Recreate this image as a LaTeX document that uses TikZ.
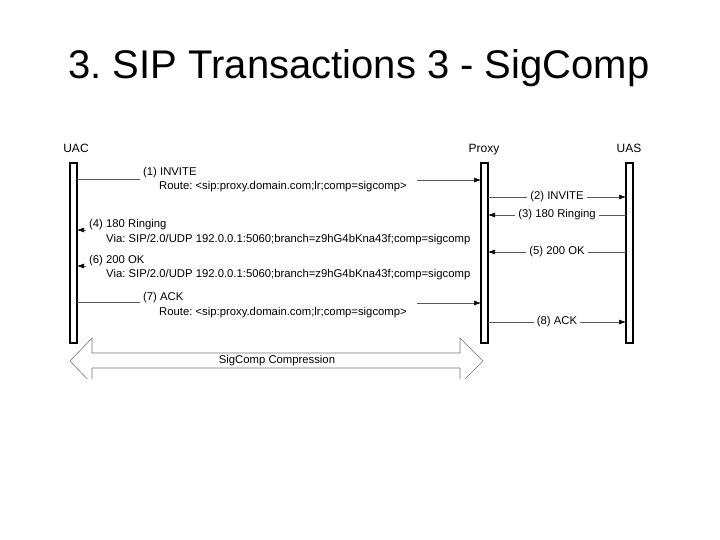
\documentclass[tikz,border=0pt]{standalone}
\usepackage{fontspec}
\setmainfont{Liberation Sans}
\usetikzlibrary{arrows.meta}
\frenchspacing
\begin{document}
\begin{tikzpicture}[x=1pt,y=-1pt,
  life/.style={draw=black,line width=1.1pt,fill=white},
  msg/.style={draw=black!65,line width=0.6pt},
  arr/.style={msg,-{Latex[length=7pt,width=5pt,color=black]}},
  lbl/.style={font=\fontsize{11.3}{13}\selectfont,inner sep=1pt,text=black},
  mlbl/.style={lbl,fill=white,inner sep=3pt},
  ent/.style={font=\fontsize{12}{14}\selectfont,inner sep=0pt,text=black,anchor=base},
  sig/.style={draw=black!55,line width=0.6pt}]
\useasboundingbox (0,0) rectangle (720,540);
% title
\node[font=\fontsize{40}{46}\selectfont,anchor=base,inner sep=0pt] (title) at (359,79) {3. SIP Transactions 3 - SigComp};
% entities
\node[ent] (uac) at (76,153) {UAC};
\node[ent] (proxy) at (484,153) {Proxy};
\node[ent] (uas) at (629,153) {UAS};
% lifelines
\draw[life] (70,163) rectangle (77,343);
\draw[life] (481,163) rectangle (488,343);
\draw[life] (626,163) rectangle (633,343);
\coordinate (a1) at (77,179);
\coordinate (a1e) at (140,179);
\coordinate (b1) at (417,180);
\coordinate (p1) at (481,180);
\draw[msg] (a1) -- (a1e);
\draw[arr] (b1) -- (p1);
\node[lbl,anchor=base west] (m1) at (142,176) {(1) INVITE};
\node[lbl,anchor=base west] (r1) at (158,190) {Route: <sip:proxy.domain.com;lr;comp=sigcomp>};
% (2)
\coordinate (p2) at (488,197);
\coordinate (u2) at (626,197);
\draw[arr] (p2) -- node[mlbl] (m2) {(2) INVITE} (u2);
% (3)
\coordinate (u3) at (626,215);
\coordinate (p3) at (488,215);
\draw[arr] (u3) -- node[mlbl] (m3) {(3) 180 Ringing} (p3);
% (4)
\coordinate (a4s) at (86,230);
\coordinate (a4) at (77,230);
\draw[arr] (a4s) -- (a4);
\node[lbl,anchor=base west] (m4) at (88,228) {(4) 180 Ringing};
\node[lbl,anchor=base west] (v4) at (105,242) {Via: SIP/2.0/UDP 192.0.0.1:5060;branch=z9hG4bKna43f;comp=sigcomp};
% (5)
\coordinate (u5) at (626,252);
\coordinate (p5) at (488,252);
\draw[arr] (u5) -- node[mlbl] (m5) {(5) 200 OK} (p5);
% (6)
\coordinate (a6s) at (86,266);
\coordinate (a6) at (77,266);
\draw[arr] (a6s) -- (a6);
\node[lbl,anchor=base west] (m6) at (88,263) {(6) 200 OK};
\node[lbl,anchor=base west] (v6) at (105,277) {Via: SIP/2.0/UDP 192.0.0.1:5060;branch=z9hG4bKna43f;comp=sigcomp};
% (7)
\coordinate (a7) at (77,302);
\coordinate (a7e) at (140,302);
\coordinate (b7) at (417,303);
\coordinate (p7) at (481,303);
\draw[msg] (a7) -- (a7e);
\draw[arr] (b7) -- (p7);
\node[lbl,anchor=base west] (m7) at (142,300) {(7) ACK};
\node[lbl,anchor=base west] (r7) at (158,315) {Route: <sip:proxy.domain.com;lr;comp=sigcomp>};
% (8)
\coordinate (p8) at (488,322);
\coordinate (u8) at (626,322);
\draw[arr] (p8) -- node[mlbl] (m8) {(8) ACK} (u8);
% SigComp double arrow
\begin{scope}
\clip (0,330) rectangle (720,378);
\draw[sig] (70,361) -- (92,338) -- (92,353) -- (460,353) -- (460,338) -- (483,361)
  -- (460,384) -- (460,368) -- (92,368) -- (92,384) -- cycle;
\end{scope}
\node[lbl] (sc) at (277,361) {SigComp Compression};
\end{tikzpicture}
\end{document}
